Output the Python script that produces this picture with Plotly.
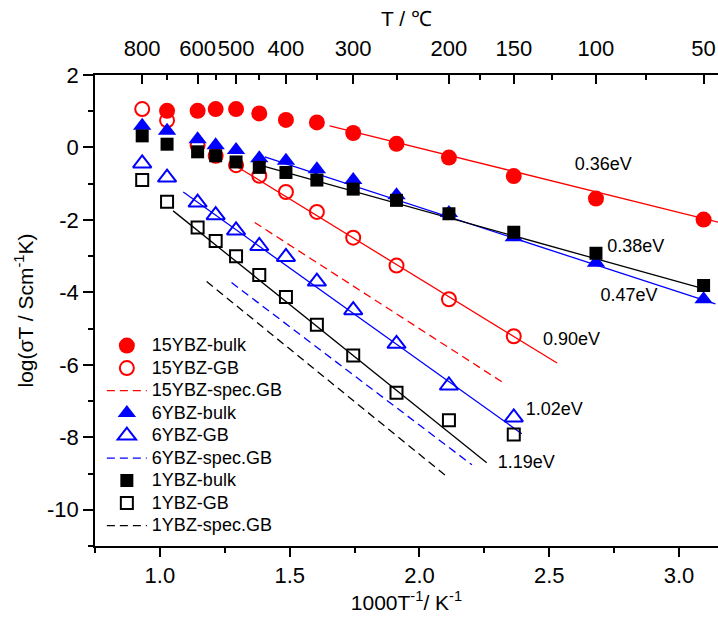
import plotly.graph_objects as go

# ---------------- data ----------------
T_all = [800, 700, 600, 550, 500, 450, 400, 350, 300, 250, 200, 150, 100, 50]
T_gb = [800, 700, 600, 550, 500, 450, 400, 350, 300, 250, 200, 150]
T_b15 = [700, 600, 550, 500, 450, 400, 350, 300, 250, 200, 150, 100, 50]

y15_bulk = [1.01, 1.01, 1.06, 1.06, 0.94, 0.76, 0.69, 0.40, 0.10, -0.28, -0.79, -1.41, -1.99]
y15_gb = [1.06, 0.75, 0.06, -0.23, -0.49, -0.78, -1.23, -1.78, -2.49, -3.26, -4.19, -5.21]
y6_bulk = [0.60, 0.46, 0.23, 0.06, -0.07, -0.30, -0.37, -0.60, -0.90, -1.32, -1.81, -2.48, -3.18, -4.19]
y6_gb = [-0.44, -0.83, -1.52, -1.87, -2.29, -2.72, -3.02, -3.70, -4.49, -5.42, -6.57, -7.45]
y1_bulk = [0.32, 0.09, -0.12, -0.23, -0.40, -0.55, -0.69, -0.90, -1.15, -1.46, -1.83, -2.34, -2.92, -3.81]
y1_gb = [-0.90, -1.50, -2.21, -2.58, -3.00, -3.52, -4.13, -4.89, -5.74, -6.77, -7.53, -7.92]

# fitted / spec lines: [x_start, x_end], [y_start, y_end]
fit15_bulk_x, fit15_bulk_y = [1.654, 3.15], [0.597, -2.06]
fit15_gb_x, fit15_gb_y = [1.288, 2.53], [-0.49, -5.95]
spec15_x, spec15_y = [1.365, 2.322], [-2.07, -6.49]
fit6_bulk_x, fit6_bulk_y = [1.404, 3.14], [-0.26, -4.32]
fit6_gb_x, fit6_gb_y = [1.09, 2.394], [-1.23, -7.90]
spec6_x, spec6_y = [1.276, 2.202], [-3.73, -8.76]
fit1_bulk_x, fit1_bulk_y = [1.385, 3.11], [-0.49, -3.93]
fit1_gb_x, fit1_gb_y = [1.051, 2.259], [-1.75, -8.70]
spec1_x, spec1_y = [1.18, 2.11], [-3.70, -9.11]

# activation energy labels
ea_text = ["0.36eV", "0.38eV", "0.47eV", "0.90eV", "1.02eV", "1.19eV"]
ea_x = [2.708, 2.833, 2.807, 2.586, 2.519, 2.411]
ea_y = [-0.51, -2.76, -4.11, -5.34, -7.27, -8.73]

# top axis (°C)
top_major = [800, 600, 500, 400, 300, 200, 150, 100, 50]
top_minor = [700, 550, 450, 350, 250, 175, 125, 75]

y_ticks = [-10, -8, -6, -4, -2, 0, 2]
y_minor = [-11, -9, -7, -5, -3, -1, 1]
x_ticks = [1.0, 1.5, 2.0, 2.5, 3.0]
x_minor = [0.75, 1.25, 1.75, 2.25, 2.75]


def inv(tc):
    return [1000.0 / (t + 273.15) for t in tc]


RED, BLUE, BLACK = "#ff0000", "#0000ff", "#000000"
FONT = "Liberation Sans"
LG = '<span style="font-size:18px">%s</span>'

fig = go.Figure()


def fit(x, y, c, dash="solid"):
    fig.add_trace(go.Scatter(x=x, y=y, mode="lines", line=dict(color=c, width=1.3, dash=dash),
                             showlegend=False, hoverinfo="skip"))


def spec(x, y, c, name):
    fig.add_trace(go.Scatter(x=x, y=y, mode="lines", name=LG % name,
                             line=dict(color=c, width=1.3, dash="8px,5px")))


def pts(T, y, c, sym, size, name, open_=False):
    mk = dict(color=c, symbol=sym, size=size)
    if open_:
        mk.update(line=dict(color=c, width=2))
    else:
        mk.update(line=dict(width=0))
    fig.add_trace(go.Scatter(x=inv(T), y=y, mode="markers", marker=mk, name=LG % name))


# fit lines (no legend)
fit(fit15_bulk_x, fit15_bulk_y, RED)
fit(fit15_gb_x, fit15_gb_y, RED)
fit(fit6_bulk_x, fit6_bulk_y, BLUE)
fit(fit6_gb_x, fit6_gb_y, BLUE)
fit(fit1_bulk_x, fit1_bulk_y, BLACK)
fit(fit1_gb_x, fit1_gb_y, BLACK)

pts(T_b15, y15_bulk, RED, "circle", 16, "15YBZ-bulk")
pts(T_gb, y15_gb, RED, "circle-open", 14, "15YBZ-GB", True)
spec(spec15_x, spec15_y, RED, "15YBZ-spec.GB")
pts(T_all, y6_bulk, BLUE, "triangle-up", 16, "6YBZ-bulk")
pts(T_gb, y6_gb, BLUE, "triangle-up-open", 16, "6YBZ-GB", True)
spec(spec6_x, spec6_y, BLUE, "6YBZ-spec.GB")
pts(T_all, y1_bulk, BLACK, "square", 13, "1YBZ-bulk")
pts(T_gb, y1_gb, BLACK, "square-open", 12, "1YBZ-GB", True)
spec(spec1_x, spec1_y, BLACK, "1YBZ-spec.GB")

# activation-energy labels as a text trace
fig.add_trace(go.Scatter(x=ea_x, y=ea_y, mode="text", text=ea_text, textposition="middle center",
                         textfont=dict(size=18, color="black", family=FONT),
                         showlegend=False, hoverinfo="skip"))

# invisible trace so the top (°C) axis is drawn
fig.add_trace(go.Scatter(x=[None], y=[None], xaxis="x2", showlegend=False, hoverinfo="skip"))

XR = [0.75, 3.15]
fig.update_layout(
    width=718, height=619,
    margin=dict(l=95, r=0, t=75, b=73),
    paper_bgcolor="white", plot_bgcolor="white",
    font=dict(family=FONT, color="black"),
    showlegend=True,
    legend=dict(x=0.011, y=0.46, xanchor="left", yanchor="top", bgcolor="rgba(0,0,0,0)",
                font=dict(size=15, family=FONT), itemwidth=40, tracegroupgap=0),
    xaxis=dict(range=XR, showline=True, linecolor="black", linewidth=1.5, mirror=False,
               ticks="outside", ticklen=9, tickwidth=1.5, tickcolor="black",
               tickmode="array", tickvals=x_ticks, ticktext=["%.1f" % v for v in x_ticks],
               tickfont=dict(size=22), showgrid=False, zeroline=False, tickangle=0,
               minor=dict(tickmode="array", tickvals=x_minor, ticks="outside", ticklen=5,
                          tickwidth=1.5, tickcolor="black", showgrid=False),
               title=dict(text="1000T<sup>-1</sup>/ K<sup>-1</sup>", font=dict(size=21), standoff=8)),
    xaxis2=dict(range=XR, overlaying="x", side="top", anchor="y", showline=True, linecolor="black",
                linewidth=1.5,
                ticks="inside", ticklen=9, tickwidth=1.5, tickcolor="black",
                tickmode="array", tickvals=inv(top_major), ticktext=[str(t) for t in top_major],
                tickfont=dict(size=22), showgrid=False, zeroline=False, ticklabelstandoff=8,
                tickangle=0,
                minor=dict(tickmode="array", tickvals=inv(top_minor), ticks="inside", ticklen=5,
                           tickwidth=1.5, tickcolor="black", showgrid=False),
                title=dict(text="T / ℃", font=dict(size=21), standoff=4)),
    yaxis=dict(range=[-11, 2], showline=True, linecolor="black", linewidth=1.5,
               ticks="outside", ticklen=10, tickwidth=1.5, tickcolor="black",
               tickmode="array", tickvals=y_ticks, ticktext=[str(v) for v in y_ticks],
               tickfont=dict(size=22), showgrid=False, zeroline=False,
               minor=dict(tickmode="array", tickvals=y_minor, ticks="outside", ticklen=5,
                          tickwidth=1.5, tickcolor="black", showgrid=False),
               title=dict(text="log(σT / Scm<sup>-1</sup>K)", font=dict(size=21), standoff=8)),
)

fig.write_html("out.html")
